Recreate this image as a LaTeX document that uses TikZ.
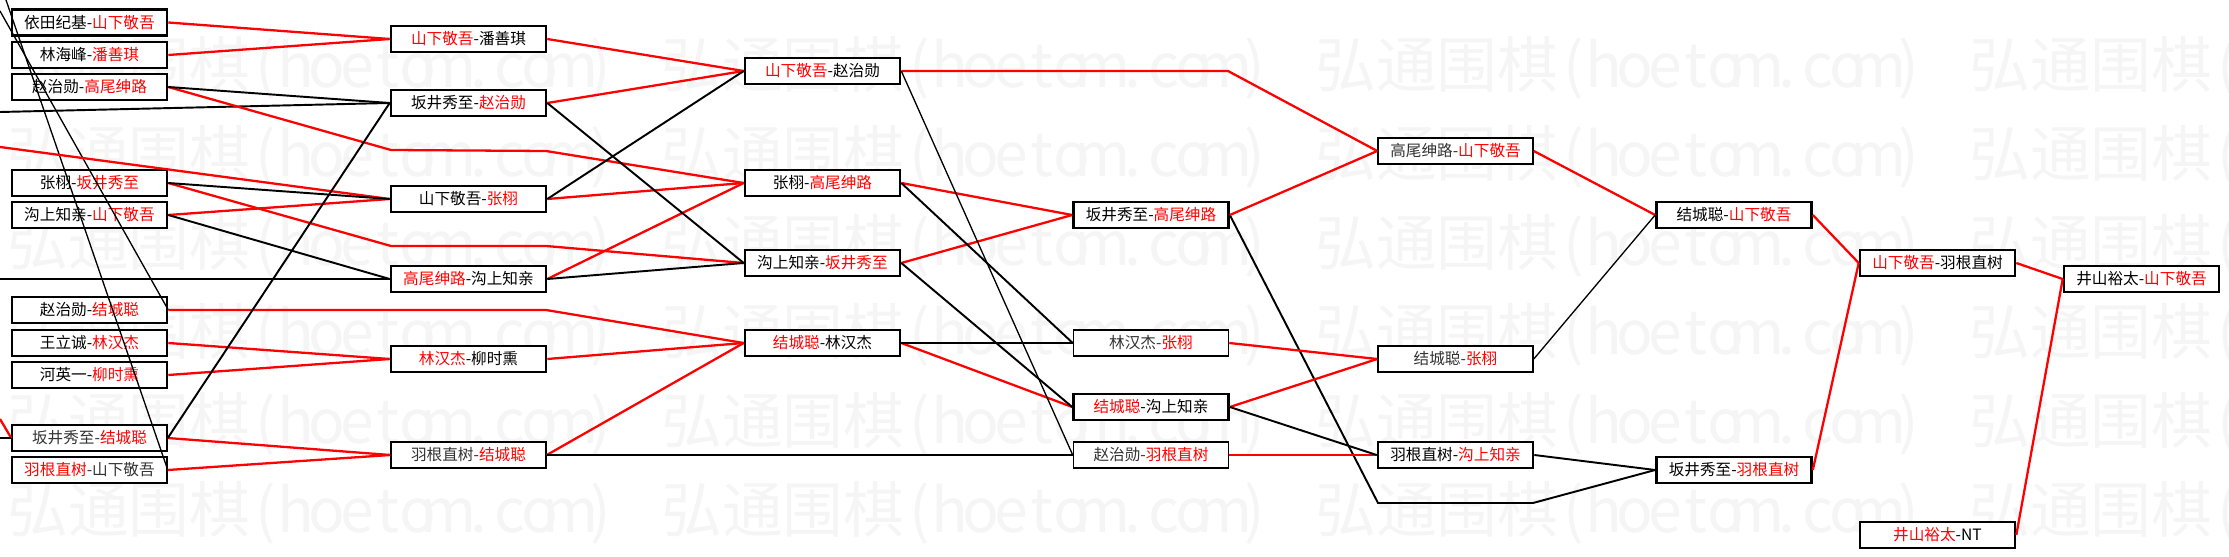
\documentclass[tikz,border=0pt]{standalone}
\usepackage{fontspec}
\setmainfont{Noto Sans CJK SC}

\newcommand\winner[1]{\textcolor{red}{#1}}
\newcommand\wmchar[1]{\makebox[0.61cm]{#1}}
\newcommand\wmtext{弘通围棋\wmchar{(}\wmchar{h}\wmchar{o}\wmchar{e}\wmchar{t}\wmchar{o}\wmchar{m}\wmchar{.}\wmchar{c}\wmchar{o}\wmchar{m}\wmchar{)}}

\begin{document}
\begin{tikzpicture}[
  x=0.02cm, y=-0.02cm,
  game/.style={draw, fill=white, line width=1.5pt, minimum width=3.1cm, minimum height=0.52cm,
               inner sep=0pt, font=\fontsize{8.9pt}{10pt}\selectfont},
  gamethin/.style={game, line width=0.9pt, text=black!80},
  win/.style={red, line width=1.3pt},
  lose/.style={black, line width=1.1pt},
  losethin/.style={black, line width=0.75pt},
  wm/.style={anchor=west, inner sep=0pt, text=black!4, font=\fontsize{34.6pt}{36pt}\selectfont}
]
\useasboundingbox (0,0) rectangle (2229,557);

% watermark
\begin{scope}
  \clip (0,0) rectangle (2229,557);
  \foreach \i in {0,...,3}
    \foreach \k in {0,...,5}
      \node[wm] (wm-\i-\k) at (7+654*\i, 68+89*\k) {\wmtext};
\end{scope}

% round 1
\node[game] (c1a) at (89.5,22.5) {依田纪基-\winner{山下敬吾}};
\node[game] (c1b) at (89.5,55) {林海峰-\winner{潘善琪}};
\node[game] (c1c) at (89.5,87) {赵治勋-\winner{高尾绅路}};
\node[game] (c1d) at (89.5,183) {张栩-\winner{坂井秀至}};
\node[game] (c1e) at (89.5,215) {沟上知亲-\winner{山下敬吾}};
\node[game] (c1f) at (89.5,310) {赵治勋-\winner{结城聪}};
\node[game] (c1g) at (89.5,343) {王立诚-\winner{林汉杰}};
\node[game] (c1h) at (89.5,375) {河英一-\winner{柳时熏}};
\node[gamethin] (c1i) at (89.5,438) {坂井秀至-\winner{结城聪}};
\node[gamethin] (c1j) at (89.5,470) {\winner{羽根直树}-山下敬吾};

% round 2
\node[game] (c2a) at (468.5,39) {\winner{山下敬吾}-潘善琪};
\node[game] (c2b) at (468.5,103) {坂井秀至-\winner{赵治勋}};
\node[game] (c2c) at (468.5,199) {山下敬吾-\winner{张栩}};
\node[game] (c2d) at (468.5,279) {\winner{高尾绅路}-沟上知亲};
\node[game] (c2e) at (468.5,359) {\winner{林汉杰}-柳时熏};
\node[gamethin] (c2f) at (468.5,455) {羽根直树-\winner{结城聪}};

% round 3
\node[game] (c3a) at (822.5,71) {\winner{山下敬吾}-赵治勋};
\node[game] (c3b) at (822.5,183) {张栩-\winner{高尾绅路}};
\node[game] (c3c) at (822.5,263) {沟上知亲-\winner{坂井秀至}};
\node[game] (c3d) at (822.5,343) {\winner{结城聪}-林汉杰};

% round 4
\node[game] (c4a) at (1151,215) {坂井秀至-\winner{高尾绅路}};
\node[gamethin] (c4b) at (1151,343) {林汉杰-\winner{张栩}};
\node[game] (c4c) at (1151,407) {\winner{结城聪}-沟上知亲};
\node[gamethin] (c4d) at (1151,455) {赵治勋-\winner{羽根直树}};

% round 5
\node[gamethin] (c5a) at (1455.5,151) {高尾绅路-\winner{山下敬吾}};
\node[gamethin] (c5b) at (1455.5,359) {结城聪-\winner{张栩}};
\node[game] (c5c) at (1455.5,455) {羽根直树-\winner{沟上知亲}};

% round 6 to final
\node[game] (c6a) at (1734,215) {结城聪-\winner{山下敬吾}};
\node[game] (c6b) at (1734,470) {坂井秀至-\winner{羽根直树}};
\node[game] (c7a) at (1937.5,263) {\winner{山下敬吾}-羽根直树};
\node[game] (c7b) at (1937.5,535) {\winner{井山裕太}-NT};
\node[game] (c8) at (2141.5,279) {井山裕太-\winner{山下敬吾}};

% ends coming in from the left edge
\coordinate (inA) at (0,11);
\coordinate (inB) at (6,0);
\coordinate (inC) at (0,112);
\coordinate (inD) at (0,147);
\coordinate (inE) at (0,279);
\coordinate (inF) at (0,419);
\coordinate (inG) at (0,438);
% bends of the lines that skip a round
\coordinate (p1a) at (391,150);
\coordinate (p1b) at (546,151);
\coordinate (p2a) at (391,246);
\coordinate (p2b) at (546,246);
\coordinate (p3a) at (546,310);
\coordinate (p4a) at (1228,71);
\coordinate (p5a) at (1378,503);
\coordinate (p5b) at (1533,503);

\draw[losethin] (inA) -- (c1f.east);
\draw[losethin] (inB) -- (c1j.east);
\draw[lose] (inC) -- (c2b.west);
\draw[win] (inD) -- (c2c.west);
\draw[lose] (inE) -- (c2d.west);
\draw[win] (inF) -- (c1i.west);
\draw[lose] (inG) -- (c1i.west);

\draw[win] (c1c.east) -- (p1a) -- (p1b) -- (c3b.west);
\draw[win] (c1d.east) -- (p2a) -- (p2b) -- (c3c.west);
\draw[win] (c1f.east) -- (p3a) -- (c3d.west);
\draw[win] (c3a.east) -- (p4a) -- (c5a.west);
\draw[lose] (c4a.east) -- (p5a) -- (p5b) -- (c6b.west);

\foreach \a/\b in {c1a/c2a, c1b/c2a, c1e/c2c, c1g/c2e, c1h/c2e, c1i/c2f, c1j/c2f,
                   c2a/c3a, c2b/c3a, c2c/c3b, c2d/c3b, c2e/c3d, c2f/c3d,
                   c3b/c4a, c3c/c4a, c3d/c4c, c4a/c5a, c4b/c5b, c4c/c5b, c4d/c5c,
                   c5a/c6a, c6a/c7a, c6b/c7a, c7a/c8, c7b/c8}
  \draw[win] (\a.east) -- (\b.west);

\foreach \a/\b in {c1c/c2b, c1d/c2c, c1e/c2d, c1i/c2b, c2b/c3c, c2c/c3a, c2d/c3c,
                   c3b/c4b, c3c/c4c, c3d/c4b, c4c/c5c, c5c/c6b}
  \draw[lose] (\a.east) -- (\b.west);

\foreach \a/\b in {c2f/c4d, c3a/c4d, c5b/c6a}
  \draw[losethin] (\a.east) -- (\b.west);
\end{tikzpicture}
\end{document}
